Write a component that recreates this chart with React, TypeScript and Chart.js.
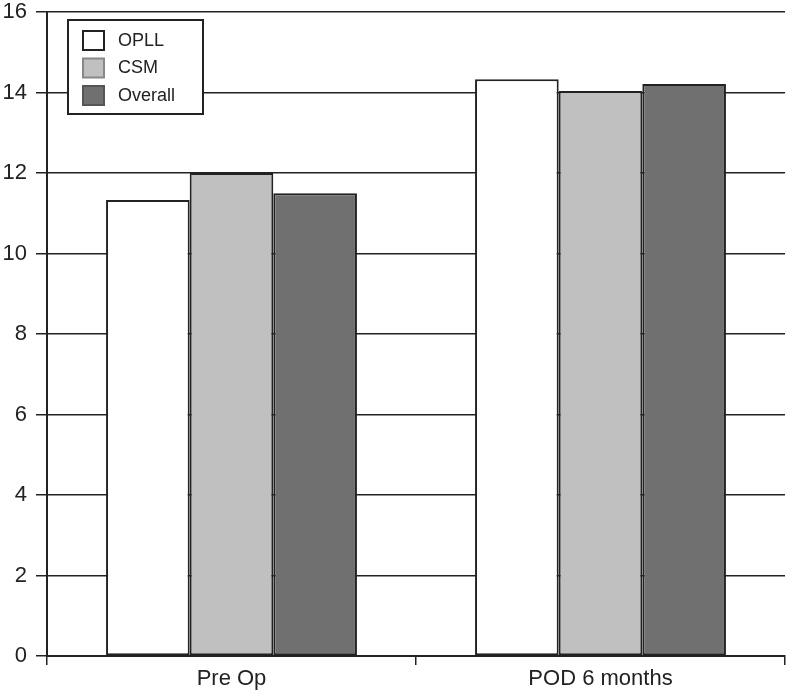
import React, { useEffect, useRef } from "react";
import { Chart, registerables } from "chart.js";

Chart.register(...registerables);

const categories = ["Pre Op", "POD 6 months"];
const seriesNames = ["OPLL", "CSM", "Overall"];
const opll = [11.33, 14.33];
const csm = [12.0, 14.04];
const overall = [11.5, 14.21];
const seriesColors = ["#ffffff", "#c0c0c0", "#707070"];
const yTicks = [0, 2, 4, 6, 8, 10, 12, 14, 16];

const FONT = "'Liberation Sans', Arial, sans-serif";

const boxLegend = {
  id: "boxLegend",
  afterDraw(chart: any) {
    const ctx = chart.ctx;
    const x0 = 68, y0 = 20, w = 135, h = 94;
    ctx.save();
    ctx.fillStyle = "#ffffff";
    ctx.fillRect(x0, y0, w, h);
    ctx.strokeStyle = "#222";
    ctx.lineWidth = 2;
    ctx.strokeRect(x0, y0, w, h);
    ctx.font = `18px ${FONT}`;
    ctx.textBaseline = "middle";
    const borders = ["#222", "#888", "#555"];
    chart.data.datasets.forEach((ds: any, i: number) => {
      const sy = 31 + i * 27.5;
      ctx.fillStyle = ds.backgroundColor;
      ctx.fillRect(83, sy, 21, 19);
      ctx.lineWidth = 2;
      ctx.strokeStyle = borders[i];
      ctx.strokeRect(83, sy, 21, 19);
      ctx.fillStyle = "#222";
      ctx.fillText(ds.label, 118, sy + 10);
    });
    ctx.restore();
  },
};

export default function App() {
  const ref = useRef<HTMLCanvasElement>(null);
  useEffect(() => {
    const data = [opll, csm, overall];
    const chart = new Chart(ref.current!, {
      type: "bar",
      data: {
        labels: categories,
        datasets: seriesNames.map((n, i) => ({
          label: n,
          data: data[i],
          backgroundColor: seriesColors[i],
          borderColor: "#222",
          borderWidth: 2,
          borderSkipped: false,
          categoryPercentage: 0.68,
          barPercentage: 1.0,
        })),
      },
      options: {
        animation: false,
        responsive: false,
        maintainAspectRatio: false,
        layout: { padding: { left: 0, top: 12, right: 2, bottom: 0 } },
        plugins: { legend: { display: false }, tooltip: { enabled: false } },
        scales: {
          x: {
            afterFit: (s: any) => { s.height = 36; s.paddingLeft = 0; s.paddingRight = 0; },
            grid: {
              drawOnChartArea: false,
              drawTicks: true,
              tickLength: 9,
              color: "#222",
              lineWidth: 1.5,
            },
            border: { color: "#222", width: 2 },
            ticks: { color: "#222", font: { family: FONT, size: 22 }, padding: 1 },
          },
          y: {
            min: 0,
            max: 16,
            afterFit: (s: any) => { s.width = 47; s.paddingTop = 0; s.paddingBottom = 0; },
            afterBuildTicks: (s: any) => { s.ticks = yTicks.map((v) => ({ value: v })); },
            grid: { color: "#222", lineWidth: 1.5, tickLength: 11 },
            border: { color: "#222", width: 2 },
            ticks: { color: "#222", font: { family: FONT, size: 22 }, padding: 9 },
          },
        },
      },
      plugins: [boxLegend],
    });
    return () => chart.destroy();
  }, []);
  return (
    <div style={{ position: "fixed", left: 0, top: 0, width: 787, height: 692, background: "#fff" }}>
      <canvas ref={ref} width={787} height={692} style={{ width: 787, height: 692 }} />
    </div>
  );
}
